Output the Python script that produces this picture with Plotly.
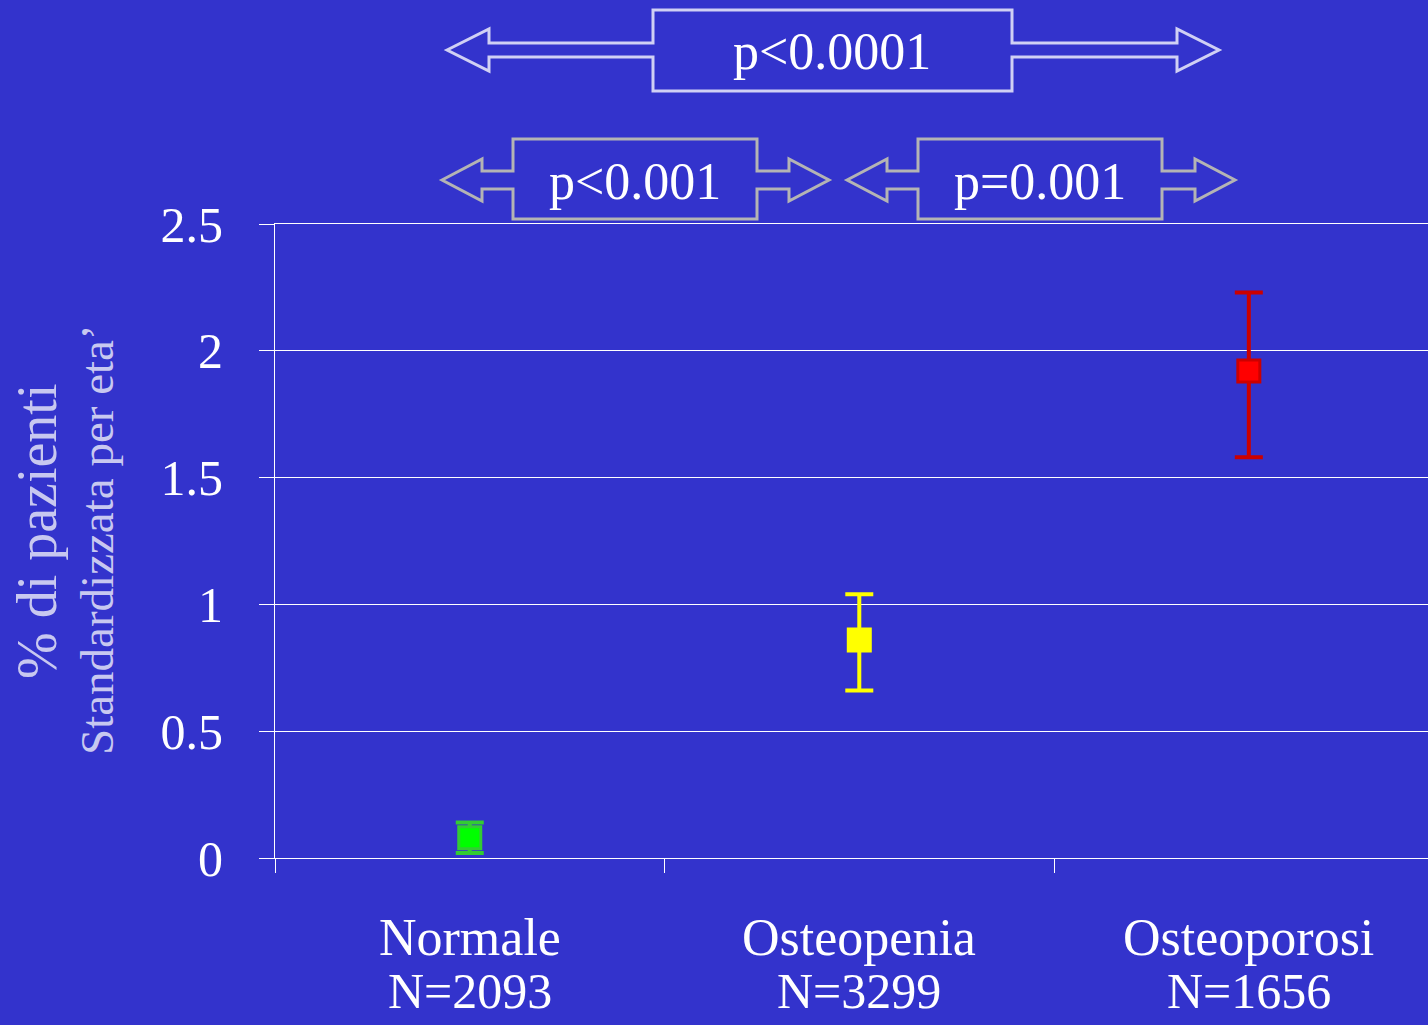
import plotly.graph_objects as go

# ---- data ----
categories = ["Normale", "Osteopenia", "Osteoporosi"]
counts = ["N=2093", "N=3299", "N=1656"]
values = [0.08, 0.86, 1.92]
upper = [0.14, 1.04, 2.23]
lower = [0.02, 0.66, 1.58]
fill_colors = ["#00FF00", "#FFFF00", "#FF0000"]
edge_colors = ["#33CC33", "#FFFF00", "#CC0000"]
y_ticks = [0, 0.5, 1, 1.5, 2, 2.5]
y_tick_text = ["0", "0.5", "1", "1.5", "2", "2.5"]
comparisons = ["p&lt;0.0001", "p&lt;0.001", "p=0.001"]

BG = "#3333CC"
FONT = "Liberation Serif, Times New Roman, serif"
W, H = 1428, 1025
L, T, B = 275, 224, 167
PW, PH = W - L, H - T - B

x_pos = [i + 0.5 for i in range(len(categories))]

fig = go.Figure()
for i, cat in enumerate(categories):
    fig.add_trace(go.Scatter(
        x=[x_pos[i]], y=[values[i]], mode="markers", name=cat,
        marker=dict(symbol="square", size=22, color=fill_colors[i],
                    line=dict(color=edge_colors[i], width=3)),
        error_y=dict(type="data", symmetric=False,
                     array=[upper[i] - values[i]],
                     arrayminus=[values[i] - lower[i]],
                     color=edge_colors[i], thickness=4, width=14),
        showlegend=False))

def px(x):
    return (x - L) / PW

def py(y):
    return (T + PH - y) / PH

def arrow_path(x0, x1, yc, bx0, bx1, by0, by1, h, hh, sh):
    pts = [(x0, yc), (x0 + h, yc - hh), (x0 + h, yc - sh), (bx0, yc - sh),
           (bx0, by0), (bx1, by0), (bx1, yc - sh), (x1 - h, yc - sh),
           (x1 - h, yc - hh), (x1, yc), (x1 - h, yc + hh), (x1 - h, yc + sh),
           (bx1, yc + sh), (bx1, by1), (bx0, by1), (bx0, yc + sh),
           (x0 + h, yc + sh), (x0 + h, yc + hh)]
    return "M " + " L ".join(f"{px(a):.5f},{py(b):.5f}" for a, b in pts) + " Z"

arrows = [
    dict(geo=(447, 1219, 50, 653, 1012, 10, 91, 42, 21, 7), color="#D0D0F4", tc=(832, 52)),
    dict(geo=(442, 829, 180, 513, 757, 139, 219, 40, 21, 9), color="#B4B4B4", tc=(635, 181)),
    dict(geo=(847, 1235, 180, 918, 1162, 139, 219, 40, 21, 9), color="#B4B4B4", tc=(1040, 181)),
]
shapes = []
annotations = []
for a, label in zip(arrows, comparisons):
    shapes.append(dict(type="path", path=arrow_path(*a["geo"]), xref="paper", yref="paper",
                       line=dict(color=a["color"], width=3), fillcolor="rgba(0,0,0,0)",
                       layer="above"))
    annotations.append(dict(text=label, x=px(a["tc"][0]), y=py(a["tc"][1]),
                            xref="paper", yref="paper", showarrow=False,
                            xanchor="center", yanchor="middle",
                            font=dict(family=FONT, size=52, color="white")))

for i, (cat, n) in enumerate(zip(categories, counts)):
    annotations.append(dict(text=cat, x=x_pos[i], y=py(937), xref="x", yref="paper",
                            showarrow=False, xanchor="center", yanchor="middle",
                            font=dict(family=FONT, size=52, color="white")))
    annotations.append(dict(text=n, x=x_pos[i], y=py(991), xref="x", yref="paper",
                            showarrow=False, xanchor="center", yanchor="middle",
                            font=dict(family=FONT, size=50, color="white")))

annotations.append(dict(text="% di pazienti", x=px(37), y=py(532), xref="paper", yref="paper",
                        showarrow=False, textangle=-90, xanchor="center", yanchor="middle",
                        font=dict(family=FONT, size=56, color="#C8C8F0")))
annotations.append(dict(text="Standardizzata per eta\u2019", x=px(97), y=py(540),
                        xref="paper", yref="paper",
                        showarrow=False, textangle=-90, xanchor="center", yanchor="middle",
                        font=dict(family=FONT, size=47, color="#C8C8F0")))

fig.update_layout(
    width=W, height=H,
    paper_bgcolor=BG, plot_bgcolor=BG,
    margin=dict(l=L, r=0, t=T, b=B, pad=0),
    shapes=shapes, annotations=annotations,
    xaxis=dict(range=[0, 2.96], showgrid=False, zeroline=False,
               showticklabels=False, ticks="", tickvals=x_pos,
               showline=True, mirror=True, linecolor="white", linewidth=1,
               minor=dict(tickvals=[0, 1, 2, 3], ticks="outside", ticklen=14,
                          tickcolor="white", tickwidth=1, showgrid=False)),
    yaxis=dict(range=[0, 2.5], tickvals=y_ticks, ticktext=y_tick_text,
               showgrid=True, gridcolor="white", gridwidth=1,
               zeroline=False, showline=True, linecolor="white", linewidth=1,
               ticks="outside", ticklen=15, tickcolor="white",
               ticklabelstandoff=26,
               tickfont=dict(family=FONT, size=50, color="white")),
)

fig.write_html("out.html", config={"displayModeBar": False},
               post_script="document.body.style.margin='0';document.body.style.background='#3333CC';")
